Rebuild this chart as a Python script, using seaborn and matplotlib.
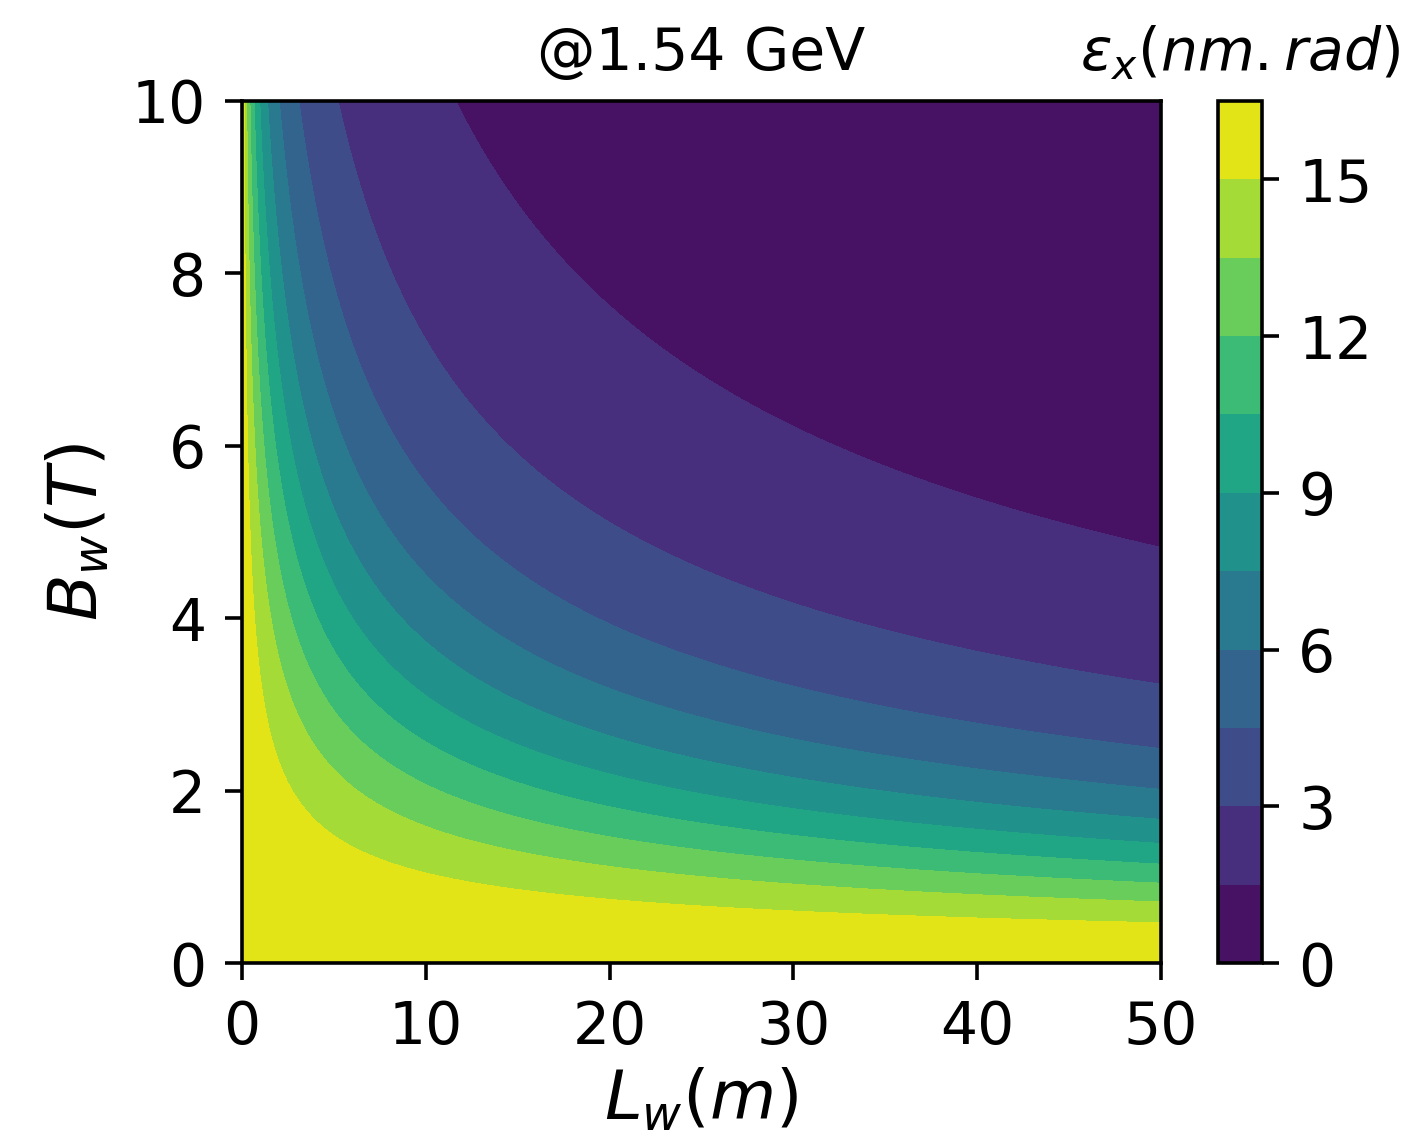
import numpy as np
import matplotlib
matplotlib.use("Agg")
import matplotlib.pyplot as plt
import seaborn as sns

# Data (parameters)
lw_range = [0.0, 50.0]          # wiggler length, m
bw_range = [0.0, 10.0]          # wiggler field, T
eps0 = 16.4                     # emittance without wiggler, nm.rad
scale = 117.0                   # Lw*Bw^2 at which emittance halves
levels = [0, 1.5, 3, 4.5, 6, 7.5, 9, 10.5, 12, 13.5, 15, 16.5]
xticks = [0, 10, 20, 30, 40, 50]
yticks = [0, 2, 4, 6, 8, 10]
cticks = [0, 3, 6, 9, 12, 15]
title = "@1.54 GeV"

sns.set_style("ticks")
plt.rcParams['font.family'] = ['DejaVu Sans']
plt.rcParams['mathtext.fontset'] = 'dejavusans'
plt.rcParams['text.color'] = 'black'
plt.rcParams['axes.labelcolor'] = 'black'
plt.rcParams['xtick.color'] = 'black'
plt.rcParams['ytick.color'] = 'black'

lw = np.linspace(lw_range[0], lw_range[1], 600)
bw = np.linspace(bw_range[0], bw_range[1], 600)
L, B = np.meshgrid(lw, bw)
eps = eps0 / (1.0 + L * B**2 / scale)

fig = plt.figure(figsize=(7.04, 5.71), dpi=200)
ax = fig.add_axes([0.1719, 0.1567, 0.6527, 0.7549])
cax = fig.add_axes([0.865, 0.1567, 0.0313, 0.7549])

cmap = sns.color_palette("viridis", as_cmap=True)
cs = ax.contourf(L, B, eps, levels=levels, cmap=cmap)

ax.set_xlim(lw_range)
ax.set_ylim(bw_range)
ax.set_xticks(xticks)
ax.set_yticks(yticks)
fs = 21
lfs = 24.5
ax.tick_params(labelsize=fs, length=6, width=1.3, pad=7,
               color='black', labelcolor='black', direction='out')
for s in ax.spines.values():
    s.set_visible(True)
    s.set_color('black')
    s.set_linewidth(1.3)
ax.set_xlabel(r'$L_w(m)$', fontsize=lfs, labelpad=4, color='black')
ax.set_ylabel(r'$B_w(T)$', fontsize=lfs, labelpad=7, color='black')
ax.set_title(title, fontsize=fs, pad=11, color='black')

cb = fig.colorbar(cs, cax=cax)
cb.set_ticks(cticks)
cb.ax.tick_params(labelsize=fs, length=6, width=1.3, pad=7,
                  color='black', labelcolor='black')
cb.outline.set_linewidth(1.3)
cb.outline.set_edgecolor('black')
cb.ax.set_title(r'$\varepsilon_x(nm.rad)$', fontsize=fs, pad=11, color='black')

fig.savefig("out.png", dpi=200)
